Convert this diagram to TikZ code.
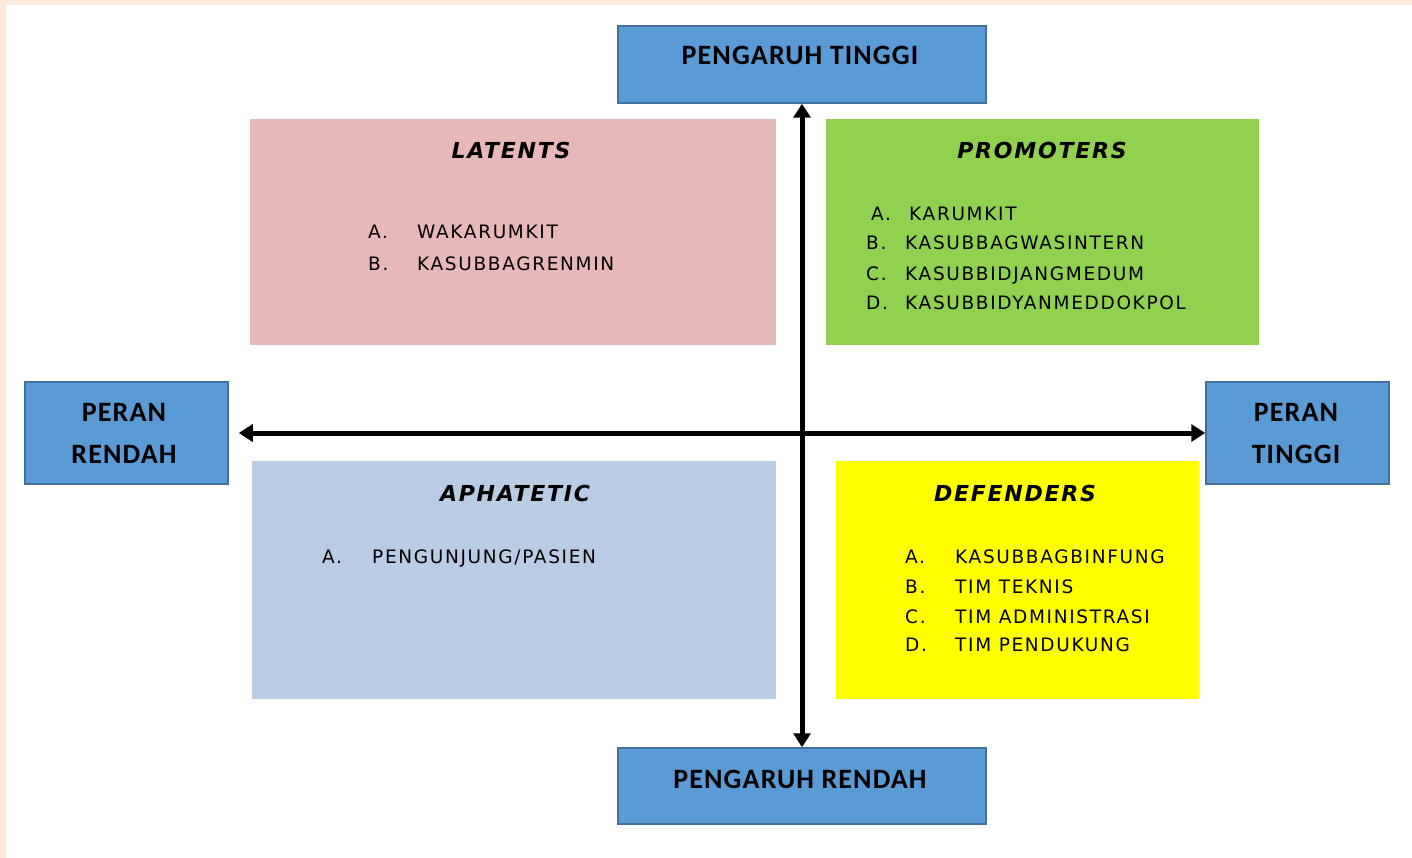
\documentclass[tikz,border=0pt]{standalone}
\usepackage{fontspec}
\setmainfont{DejaVu Sans}
\newfontfamily\boxfont[LetterSpace=4]{Carlito}
\newfontfamily\itemfont[LetterSpace=9]{DejaVu Sans}
\newfontfamily\titlefont[LetterSpace=8]{DejaVu Sans}
\usetikzlibrary{arrows.meta}
\definecolor{peach}{HTML}{FDE9D9}
\definecolor{axisblue}{HTML}{5B9BD5}
\definecolor{axisedge}{HTML}{41719C}
\definecolor{latcol}{HTML}{E6B8B7}
\definecolor{procol}{HTML}{92D050}
\definecolor{aphcol}{HTML}{B8CCE4}
\definecolor{defcol}{HTML}{FFFF00}
\tikzset{
  axisbox/.style={draw=axisedge, line width=1.5pt, fill=axisblue, inner sep=0pt},
  quad/.style={fill=#1, draw=none, inner sep=0pt},
  boxtxt/.style={font=\boxfont\fontsize{28}{32}\selectfont\bfseries, anchor=base, inner sep=0pt},
  qtitle/.style={font=\titlefont\fontsize{22}{26}\selectfont\bfseries\itshape, anchor=base, inner sep=0pt},
  item/.style={font=\itemfont\fontsize{18.5}{22}\selectfont, anchor=base west, inner sep=0pt},
  axisarrow/.style={line width=5pt, {Triangle[length=14pt,width=17pt]}-{Triangle[length=14pt,width=17pt]}}
}
\begin{document}
\begin{tikzpicture}[x=1pt,y=-1pt]
\useasboundingbox (0,0) rectangle (1412,858);
\fill[white] (0,0) rectangle (1412,858);
\fill[peach] (0,0) rectangle (1412,5);
\fill[peach] (0,0) rectangle (6,858);
% quadrant boxes
\node[quad=latcol, minimum width=526pt, minimum height=226pt] (lat) at (513,232) {};
\node[quad=procol, minimum width=433pt, minimum height=226pt] (pro) at (1042.5,232) {};
\node[quad=aphcol, minimum width=524pt, minimum height=238pt] (aph) at (514,580) {};
\node[quad=defcol, minimum width=363pt, minimum height=238pt] (def) at (1017.5,580) {};
% axis boxes
\node[axisbox, minimum width=368pt, minimum height=77pt] (pt) at (802,64.5) {};
\node[axisbox, minimum width=368pt, minimum height=76pt] (pb) at (802,786) {};
\node[axisbox, minimum width=203pt, minimum height=102pt] (pr) at (126.5,433) {};
\node[axisbox, minimum width=183pt, minimum height=102pt] (tr) at (1297.5,433) {};
% axis labels
\node[boxtxt] (ptt) at (800,65) {PENGARUH TINGGI};
\node[boxtxt] (pbt) at (800,788) {PENGARUH RENDAH};
\node[boxtxt] (pr1) at (124,421) {PERAN};
\node[boxtxt] (pr2) at (124,463) {RENDAH};
\node[boxtxt] (tr1) at (1296,421) {PERAN};
\node[boxtxt] (tr2) at (1296,463) {TINGGI};
% arrows
\draw[axisarrow] (pt.south) -- (pb.north);
\draw[axisarrow, shorten <=10pt] (pr.east) -- (tr.west);
% LATENTS
\node[qtitle] (latt) at (511,159) {LATENTS};
\node[item] (la1) at (368,238.5) {A.};
\node[item] (la2) at (417,238.5) {WAKARUMKIT};
\node[item] (lb1) at (368,271) {B.};
\node[item] (lb2) at (417,271) {KASUBBAGRENMIN};
% PROMOTERS
\node[qtitle] (prot) at (1042,159) {PROMOTERS};
\node[item] (pa1) at (871,220.5) {A.};
\node[item] (pa2) at (909,220.5) {KARUMKIT};
\node[item] (pb1) at (866,250) {B.};
\node[item] (pb2) at (905,250) {KASUBBAGWASINTERN};
\node[item] (pc1) at (866,280) {C.};
\node[item] (pc2) at (905,280) {KASUBBIDJANGMEDUM};
\node[item] (pd1) at (866,309) {D.};
\node[item] (pd2) at (905,309) {KASUBBIDYANMEDDOKPOL};
% APHATETIC
\node[qtitle] (apht) at (515,501) {APHATETIC};
\node[item] (aa1) at (322,563) {A.};
\node[item] (aa2) at (372,563) {PENGUNJUNG/PASIEN};
% DEFENDERS
\node[qtitle] (deft) at (1015,501) {DEFENDERS};
\node[item] (da1) at (905,563) {A.};
\node[item] (da2) at (955,563) {KASUBBAGBINFUNG};
\node[item] (db1) at (905,593) {B.};
\node[item] (db2) at (955,593) {TIM TEKNIS};
\node[item] (dc1) at (905,623) {C.};
\node[item] (dc2) at (955,623) {TIM ADMINISTRASI};
\node[item] (dd1) at (905,651) {D.};
\node[item] (dd2) at (955,651) {TIM PENDUKUNG};
\end{tikzpicture}
\end{document}
